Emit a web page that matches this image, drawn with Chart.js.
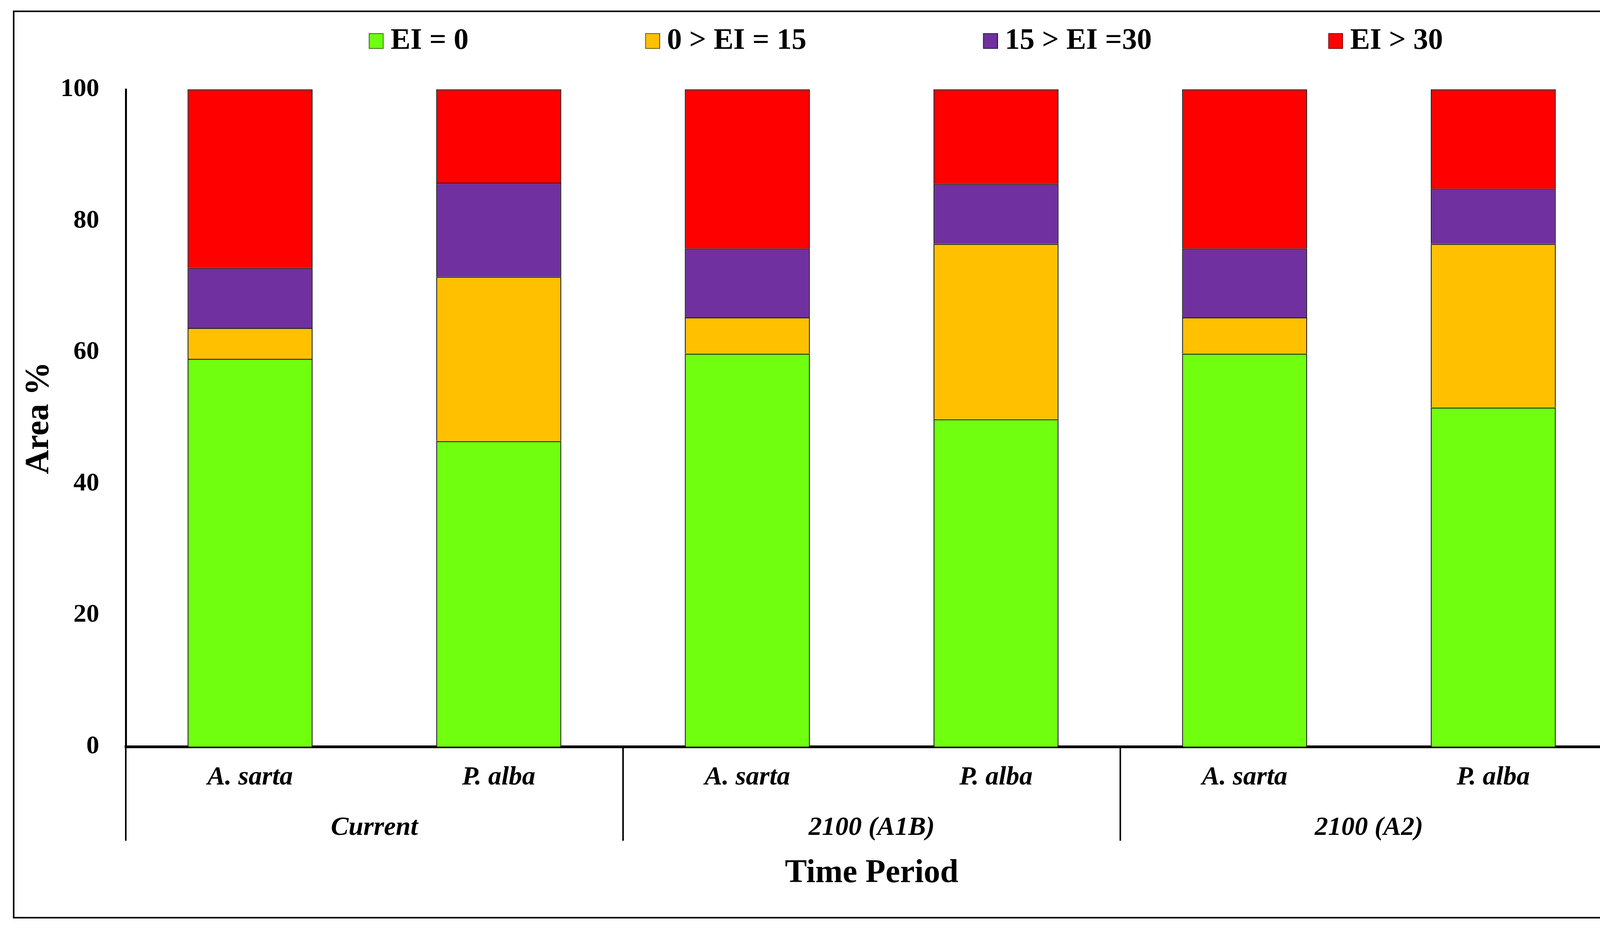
<!DOCTYPE html>
<html>
<head>
<meta charset="utf-8">
<script src="https://cdn.jsdelivr.net/npm/chart.js@4.4.1/dist/chart.umd.min.js"></script>
<style>
  html, body { margin: 0; padding: 0; background: #fff; overflow: hidden; }
  #frame { position: absolute; left: 33px; top: 27px; width: 4118px; height: 2317px; border: 4px solid #000; }
  #chart { position: absolute; left: 0; top: 0; }
</style>
</head>
<body>
<div id="frame"></div>
<canvas id="chart" width="4181" height="2379"></canvas>
<script>
// categories
const species = ['A. sarta', 'P. alba', 'A. sarta', 'P. alba', 'A. sarta', 'P. alba'];
const periods = ['Current', '2100 (A1B)', '2100 (A2)'];

// area % per EI class
const ei0 = [59.0, 46.5, 59.8, 49.8, 59.8, 51.6];
const ei0to15 = [4.7, 25.0, 5.5, 26.7, 5.5, 24.9];
const ei15to30 = [9.1, 14.3, 10.5, 9.1, 10.5, 8.4];
const eiOver30 = [27.2, 14.2, 24.2, 14.4, 24.2, 15.1];

const seriesNames = ['EI = 0', '0 > EI = 15', '15 > EI =30', 'EI > 30'];
const yTicks = [0, 20, 40, 60, 80, 100];

const colors = ['#6fff0f', '#ffc000', '#7030a0', '#ff0000'];
const font = 'Liberation Serif';

// legend swatch: wide transparent canvas with the square at its right end
function swatch(color) {
  const c = document.createElement('canvas');
  c.width = 510;
  c.height = 40;
  const g = c.getContext('2d');
  g.fillStyle = color;
  g.fillRect(c.width - 38, 0, 38, 40);
  g.strokeStyle = 'rgba(0,0,0,0.55)';
  g.lineWidth = 2;
  g.strokeRect(c.width - 37, 1, 36, 38);
  return c;
}
const swatches = colors.map(swatch);

// extra room under the legend
const legendGap = {
  id: 'legendGap',
  afterInit(chart) {
    const fit = chart.legend.fit;
    chart.legend.fit = function () {
      fit.call(this);
      this.height += 76;
    };
  }
};

const groupLine = c => (c.index === undefined || c.index % 2 === 0) ? '#000' : 'rgba(0,0,0,0)';

new Chart(document.getElementById('chart'), {
  type: 'bar',
  data: {
    labels: species,
    datasets: [ei0, ei0to15, ei15to30, eiOver30].map((d, i) => ({
      label: seriesNames[i],
      data: d,
      backgroundColor: colors[i],
      borderColor: '#1a1a1a',
      borderWidth: 2.5,
      barPercentage: 0.503,
      categoryPercentage: 1,
    })),
  },
  options: {
    responsive: false,
    devicePixelRatio: 1,
    animation: false,
    layout: { padding: { top: 67, left: 45, right: 40, bottom: 87 } },
    plugins: {
      tooltip: { enabled: false },
      legend: {
        position: 'top',
        labels: {
          usePointStyle: true,
          pointStyleWidth: 470,
          padding: 0,
          color: '#000',
          font: { family: font, size: 76, weight: 'bold' },
          generateLabels: chart => chart.data.datasets.map((ds, i) => ({
            text: ds.label,
            fillStyle: ds.backgroundColor,
            strokeStyle: 'rgba(0,0,0,0)',
            lineWidth: 0,
            pointStyle: swatches[i],
            fontColor: '#000',
            hidden: false,
            datasetIndex: i,
          })),
        },
      },
    },
    scales: {
      x: {
        stacked: true,
        weight: 1,
        offset: true,
        afterFit: scale => { scale.height = 121; },
        grid: {
          display: true,
          offset: true,
          drawOnChartArea: false,
          tickLength: 241,
          lineWidth: 4,
          color: groupLine,
          tickColor: groupLine,
        },
        border: { display: true, color: '#000', width: 7 },
        ticks: {
          color: '#000',
          padding: -202,
          maxRotation: 0,
          autoSkip: false,
          font: { family: font, size: 68, style: 'italic', weight: 'bold' },
        },
      },
      x2: {
        type: 'category',
        position: 'bottom',
        weight: 2,
        labels: periods,
        offset: true,
        afterFit: scale => { scale.height = 259; },
        grid: { display: false },
        border: { display: false },
        ticks: {
          color: '#000',
          padding: 39,
          maxRotation: 0,
          autoSkip: false,
          font: { family: font, size: 68, style: 'italic', weight: 'bold' },
        },
        title: {
          display: true,
          text: 'Time Period',
          color: '#000',
          padding: { top: 0, bottom: 4 },
          font: { family: font, size: 84, weight: 'bold' },
        },
      },
      y: {
        stacked: true,
        min: yTicks[0],
        max: yTicks[yTicks.length - 1],
        afterBuildTicks: scale => { scale.ticks = yTicks.map(v => ({ value: v })); },
        afterFit: scale => { scale.width = 277; },
        grid: { display: false },
        border: { display: true, color: '#000', width: 5 },
        ticks: {
          color: '#000',
          padding: 60,
          font: { family: font, size: 66, weight: 'bold' },
        },
        title: {
          display: true,
          text: 'Area %',
          color: '#000',
          padding: { top: 4, bottom: 0 },
          font: { family: font, size: 86, weight: 'bold' },
        },
      },
    },
  },
  plugins: [legendGap],
});
</script>
</body>
</html>
